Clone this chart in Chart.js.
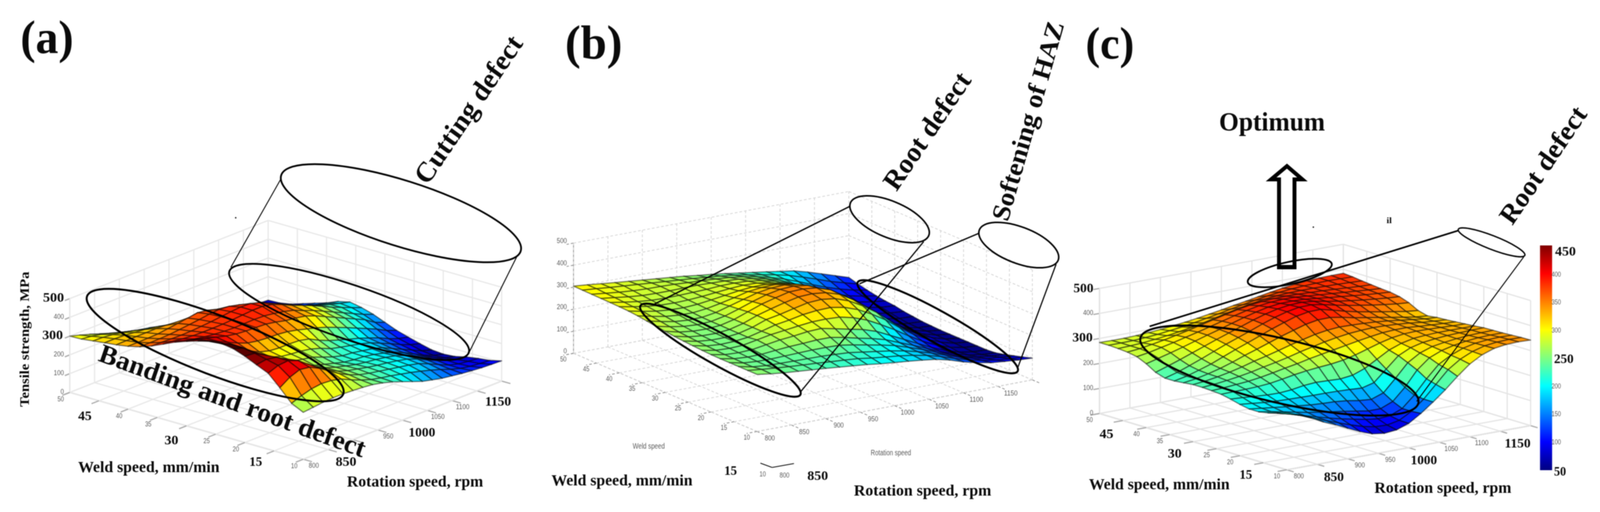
<!DOCTYPE html>
<html>
<head>
<meta charset="utf-8">
<title>Tensile strength surfaces</title>
<script src="https://cdn.jsdelivr.net/npm/chart.js@4/dist/chart.umd.min.js"></script>
<style>
  html, body { margin: 0; background: #fff; overflow: hidden; }
  canvas { display: block; }
</style>
</head>
<body>
<canvas id="chart"></canvas>
<script>
// mesh axes of the three surfaces
const weldSpeed = [50, 48, 46, 44, 42, 40, 38, 36, 34, 32, 30, 28, 26, 24, 22, 20, 18, 16, 14, 12, 10];
const rotationSpeed = [800, 820, 840, 860, 880, 900, 920, 940, 960, 980, 1000, 1020, 1040, 1060, 1080, 1100, 1120, 1140, 1160, 1180, 1200];

// axis ticks
const weldTicks = [50, 45, 40, 35, 30, 25, 20, 15, 10];
const rotationTicks = [800, 850, 900, 950, 1000, 1050, 1100, 1150, 1200];
const strengthTicks = [0, 100, 200, 300, 400, 500];
const colorbarTicks = [100, 150, 200, 300, 350, 400];

// tensile strength, MPa: one row per weld speed, one column per rotation speed
const strengthA = [
  [300,285,268,250,232,215,200,188,178,165,152,140,128,118,108,100,93,87,82,78,75],
  [302,296,285,270,255,240,225,212,200,187,173,160,148,137,126,116,106,98,90,83,78],
  [310,308,302,292,280,265,250,237,224,210,196,182,170,158,146,134,122,112,102,95,90],
  [318,318,316,310,305,295,280,268,254,238,222,208,196,185,172,160,147,136,125,117,110],
  [325,326,327,327,328,325,320,310,295,275,255,238,224,212,200,187,173,160,147,138,130],
  [335,335,336,338,345,352,360,368,360,345,325,300,280,262,245,225,205,190,175,160,150],
  [350,350,351,353,358,364,370,378,382,378,365,345,320,298,275,250,228,212,198,185,175],
  [372,370,368,367,368,372,376,382,388,392,390,375,350,325,300,272,250,233,218,203,190],
  [400,394,387,382,380,380,381,384,388,392,392,382,360,335,315,292,268,242,220,198,178],
  [428,415,403,394,387,382,380,381,382,380,372,362,348,325,305,280,255,230,205,180,160],
  [450,440,425,410,395,385,380,378,375,365,352,345,335,315,290,265,240,215,190,155,135],
  [470,450,425,400,375,355,345,340,338,332,320,305,290,272,250,228,205,182,158,130,110],
  [485,455,420,385,350,325,310,305,305,302,290,262,240,222,205,190,170,150,125,105,92],
  [492,468,430,385,345,315,298,290,285,275,258,235,222,210,198,183,160,137,112,90,75],
  [482,465,425,380,340,310,290,280,270,250,230,215,210,200,190,175,150,125,100,75,60],
  [460,455,425,385,345,310,285,265,250,235,220,212,208,198,185,170,145,118,90,68,55],
  [432,440,430,400,360,325,295,270,252,238,225,216,210,200,188,170,145,120,95,72,60],
  [405,425,430,410,370,330,298,270,252,240,228,218,210,200,188,168,142,118,98,82,75],
  [345,380,400,392,365,330,295,268,248,235,225,215,205,195,182,160,135,112,97,90,85],
  [280,300,315,322,318,305,280,258,240,228,218,206,194,180,165,148,128,112,102,96,92],
  [250,256,262,265,265,262,258,252,240,225,205,185,165,152,140,132,124,118,113,110,108],
];

const strengthB = [
  [305,299,292,286,280,274,268,262,256,248,241,233,224,215,206,196,187,170,150,130,110],
  [304,299,293,288,283,278,273,268,263,257,251,243,233,222,210,195,176,155,133,115,98],
  [303,296,289,284,281,280,278,274,271,267,262,254,242,227,208,185,160,136,116,100,88],
  [302,294,286,280,278,278,279,280,278,276,272,263,250,232,205,175,147,122,103,90,80],
  [301,291,282,276,274,275,277,279,283,284,281,272,257,235,203,170,138,111,93,82,74],
  [300,288,278,272,270,272,276,282,288,292,290,280,262,235,200,165,130,102,85,75,70],
  [298,285,274,268,266,270,278,287,296,302,302,294,272,238,197,157,120,93,76,67,62],
  [294,280,268,262,261,268,280,294,310,317,319,310,286,244,196,150,110,84,69,60,57],
  [288,274,262,257,258,268,286,304,322,332,335,326,298,252,197,146,104,78,63,55,52],
  [282,268,258,254,257,270,290,312,331,344,347,339,313,268,214,160,114,84,65,53,50],
  [277,262,254,252,257,272,295,318,335,350,352,345,325,285,235,180,130,95,70,55,48],
  [272,258,251,250,256,272,296,314,331,345,348,341,322,285,240,185,136,98,72,55,48],
  [268,255,249,249,256,272,295,307,322,336,340,332,310,276,235,184,137,100,73,55,48],
  [265,252,247,249,256,272,289,299,312,319,321,310,288,256,218,172,130,96,70,54,48],
  [262,250,247,250,262,274,282,290,297,298,295,281,258,226,191,152,116,87,65,52,48],
  [260,248,245,248,258,268,274,282,285,272,258,245,225,195,165,135,105,80,60,50,48],
  [259,247,243,244,250,255,258,262,262,250,235,222,205,180,156,130,104,82,65,55,52],
  [259,246,241,240,242,244,246,246,244,234,222,210,196,176,155,131,108,88,74,66,62],
  [259,246,240,238,237,236,235,232,228,219,210,201,190,174,156,135,114,97,84,78,74],
  [259,252,246,241,237,233,228,224,219,210,203,196,187,175,158,138,120,105,95,89,86],
  [259,250,243,238,233,228,222,216,210,202,196,190,183,175,160,140,125,113,107,102,99],
];

const strengthC = [
  [284,283,283,285,288,292,297,303,310,318,326,335,343,352,361,369,375,380,383,384,384],
  [284,284,285,288,292,298,304,312,321,330,340,349,358,366,372,377,380,382,383,382,381],
  [282,284,287,292,298,305,313,323,334,345,356,365,373,378,381,382,382,381,380,378,376],
  [279,284,292,301,311,322,334,346,358,369,378,384,387,388,387,385,383,380,377,374,372],
  [272,280,291,302,314,326,339,352,365,377,387,393,396,395,391,387,383,379,375,371,368],
  [255,268,281,295,310,325,339,354,369,382,393,399,400,398,393,387,382,377,372,368,365],
  [232,248,265,283,301,319,336,353,370,385,397,404,406,401,392,384,377,371,366,361,358],
  [220,234,252,271,291,311,329,347,366,383,397,406,407,399,388,378,370,362,355,349,345],
  [220,230,245,261,281,301,319,338,357,374,390,399,400,388,375,364,355,346,338,330,325],
  [224,231,242,255,271,289,305,322,339,354,369,378,379,371,360,352,344,335,327,319,315],
  [228,233,241,251,263,277,289,302,316,328,340,348,352,351,349,346,341,335,329,323,320],
  [228,232,238,245,254,265,275,286,299,310,321,330,337,341,343,342,339,335,329,325,322],
  [226,229,233,237,244,253,263,272,283,292,301,310,319,327,334,337,337,333,330,327,325],
  [223,224,225,227,231,239,248,255,260,264,271,283,298,313,325,332,334,333,331,329,328],
  [215,212,208,205,204,208,216,220,218,216,222,240,268,296,314,325,329,331,331,331,331],
  [205,200,195,192,190,189,188,188,187,185,182,195,240,285,308,320,326,330,332,334,335],
  [198,192,186,180,175,170,167,165,160,152,148,165,215,268,298,315,323,329,333,335,336],
  [198,190,180,170,160,152,145,138,130,122,122,142,190,250,290,310,322,330,335,337,337],
  [205,195,182,167,153,140,128,118,108,102,105,125,170,226,275,303,322,333,338,340,339],
  [215,203,188,168,150,132,115,100,90,88,98,125,165,215,265,298,320,334,340,342,341],
  [228,210,190,165,145,122,100,82,75,80,97,128,165,205,250,290,318,335,342,344,342],
];

// where each box sits on the page: corners of the floor and height of 1 MPa
const boxA = { a: [185, 1004], b: [804, 1175], c: [1330, 975], zScale: 0.48, grid: "#e8e8e8", gridWidth: 3, axis: "#aaaaaa", dash: [] };
const boxB = { a: [1520.5, 904], b: [2007, 1104], c: [2737, 972], zScale: 0.564, grid: "#d4d4d4", gridWidth: 2, axis: "#8c8c8c", dash: [7, 5] };
const boxC = { a: [2915, 1058], b: [3411.5, 1202], c: [4058, 1089], zScale: 0.64, grid: "#e4e4e4", gridWidth: 3, axis: "#aaaaaa", dash: [] };

const project = (box, weld, rotation, strength) => {
  const u = (50 - weld) / 40;
  const v = (rotation - 800) / 400;
  return {
    x: box.a[0] + u * (box.b[0] - box.a[0]) + v * (box.c[0] - box.b[0]),
    y: box.a[1] + u * (box.b[1] - box.a[1]) + v * (box.c[1] - box.b[1]) - strength * box.zScale,
  };
};

// MATLAB jet, 50 to 450 MPa
const jet = (value) => {
  const t = (value - 50) / 400;
  const ch = (center) => Math.round(255 * Math.max(0, Math.min(1, 1.5 - Math.abs(4 * t - center))));
  return `rgb(${ch(3)},${ch(2)},${ch(1)})`;
};

const segment = (from, to, color, width, dash = [], order = 3) => ({
  type: "scatter",
  data: [from, to],
  showLine: true,
  borderColor: color,
  borderWidth: width,
  borderDash: dash,
  pointRadius: 0,
  order,
});

const boxDatasets = (box) => {
  const sets = [];
  const grid = (from, to) => sets.push(segment(from, to, box.grid, box.gridWidth, box.dash));
  const axis = (from, to) => sets.push(segment(from, to, box.axis, box.gridWidth, box.dash));
  weldTicks.forEach((weld) => {
    grid(project(box, weld, 800, 0), project(box, weld, 1200, 0));
    grid(project(box, weld, 1200, 0), project(box, weld, 1200, 500));
    axis(project(box, weld, 800, 0), project(box, weld, 785, 0));
  });
  rotationTicks.forEach((rotation) => {
    grid(project(box, 50, rotation, 0), project(box, 10, rotation, 0));
    grid(project(box, 50, rotation, 0), project(box, 50, rotation, 500));
    axis(project(box, 10, rotation, 0), project(box, 8.5, rotation, 0));
  });
  strengthTicks.forEach((strength) => {
    grid(project(box, 50, 800, strength), project(box, 50, 1200, strength));
    grid(project(box, 50, 1200, strength), project(box, 10, 1200, strength));
    axis(project(box, 50, 800, strength), project(box, 50, 790, strength));
  });
  axis(project(box, 50, 800, 0), project(box, 10, 800, 0));
  axis(project(box, 10, 800, 0), project(box, 10, 1200, 0));
  sets.push(segment(project(box, 50, 800, 0), project(box, 50, 800, 500), box.axis, box.gridWidth));
  return sets;
};

const surfaceDataset = (box, rows, label) => ({
  type: "scatter",
  label,
  data: rows.flatMap((row, i) => row.map((z, j) => project(box, weldSpeed[i], rotationSpeed[j], z))),
  strength: rows,
  showLine: false,
  pointRadius: 0,
  order: 2,
});

// leader lines between the ellipses
const leaders = [
  [744, 459, 612, 684, 2.5], [1370, 657, 1244, 901, 2.5],
  [2253, 528, 1735, 778, 3.5], [2449, 618, 2123, 1002, 3],
  [2595, 597, 2279, 726, 3.5], [2800, 676, 2699, 939, 3],
  [3866, 590, 3048, 835, 4], [4040, 657, 3756, 1027, 2.5],
  [2016, 1185, 2047, 1196, 2], [2047, 1196, 2105, 1186, 2],
];

// cx, cy, semi-axes, tilt in degrees, line width
const ellipses = [
  [1063, 545.5, 332, 84, 16.9, 4.5], [925.5, 798, 334, 69.5, 18.1, 4.5], [570.5, 883, 362, 76, 20.2, 5],
  [2358.5, 561, 112, 46.5, 21.8, 4], [1910, 896, 240.7, 40, 28.2, 5],
  [2701, 627, 111.5, 46.6, 20, 4], [2486, 836, 240.7, 40, 28.2, 5],
  [3954.5, 620, 94.3, 17.4, 20.6, 3.5], [3419.5, 698.5, 113.8, 28.5, -11.9, 4.5], [3392, 948, 377.8, 82, 12.7, 5],
];

// text, x, y, fitted width, font size, angle
const boldLabels = [
  ["(a)", 124.5, 136, 141, 120, 0], ["(b)", 1574, 150, 152, 122, 0], ["(c)", 2942.5, 150, 129, 116, 0],
  ["Cutting defect", 1246, 283, 445, 72, -55], ["Banding and root defect", 615, 1030, 745, 68, 19.5],
  ["Tensile strength, MPa", 68, 868, 346, 34, -90],
  ["500", 142, 772, 56, 34, 0], ["300", 139.5, 868, 55, 34, 0],
  ["45", 225, 1075, 36, 34, 0], ["30", 454.5, 1137, 37, 34, 0], ["15", 678, 1192, 34, 34, 0],
  ["850", 917.5, 1192, 55, 34, 0], ["1000", 1118.5, 1117, 71, 34, 0], ["1150", 1320.5, 1038, 69, 34, 0],
  ["Weld speed, mm/min", 394.5, 1208, 375, 41, 0], ["Rotation speed, rpm", 1100.5, 1245, 361, 41, 0],
  ["Root defect", 2462, 338, 350, 72, -55], ["Softening of HAZ", 2730, 311, 528, 68, -73.5],
  ["15", 1937, 1215, 34, 34, 0], ["850", 2168, 1228, 55, 34, 0],
  ["Weld speed, mm/min", 1649, 1242, 374, 41, 0], ["Rotation speed, rpm", 2446, 1268, 364, 41, 0],
  ["Optimum", 3372.5, 334, 281, 67, 0], ["Root defect", 4095, 425, 350, 70, -55],
  ["500", 2872.5, 748, 53, 34, 0], ["300", 2870, 874, 54, 34, 0],
  ["45", 2933.5, 1121, 37, 34, 0], ["30", 3114.5, 1171, 37, 34, 0], ["15", 3303, 1225, 34, 34, 0],
  ["850", 3536.5, 1231, 53, 34, 0], ["1000", 3775, 1188, 70, 34, 0], ["1150", 4023.5, 1145, 69, 34, 0],
  ["Weld speed, mm/min", 3073.5, 1252, 373, 41, 0], ["Rotation speed, rpm", 3825.5, 1261, 363, 41, 0],
  ["450", 4150.5, 654, 55, 34, 0], ["250", 4146, 929, 52, 34, 0], ["50", 4136, 1217, 32, 34, 0],
  ["il", 3683, 571, 14, 20, 0], [".", 3482, 583, 6, 24, 0], [".", 625, 559, 6, 24, 0],
];

const smallLabels = [
  ["Weld speed", 1720, 1142, 85, 20], ["Rotation speed", 2362, 1159, 107, 20],
  ["10", 2022, 1214, 17, 19], ["800", 2080, 1217, 26, 19],
];

const boxTickLabels = [
  { box: boxA, weld: [50, 40, 35, 25, 20, 10], rotation: [800, 950, 1050, 1100], strength: [400, 200, 100, 0], weldOffset: [-24, 18], rotationOffset: [28, 17], strengthOffset: [-29, -1] },
  { box: boxB, weld: [50, 45, 40, 35, 30, 25, 20, 15, 10], rotation: [800, 850, 900, 950, 1000, 1050, 1100, 1150], strength: [500, 400, 300, 200, 100, 0], weldOffset: [-27, 16], rotationOffset: [34, 18], strengthOffset: [-31, -5] },
  { box: boxC, weld: [50, 40, 35, 25, 20, 10], rotation: [800, 900, 950, 1050, 1100], strength: [400, 200, 100, 0], weldOffset: [-26, 17], rotationOffset: [32, 17], strengthOffset: [-30, -1] },
];

// the browser may give a narrower window than the figure, so everything is drawn in figure units
const fullWidth = 4242;
const fullHeight = 1310;
let pageScale = 1;

const drawText = (ctx, text, x, y, width, size, angle, font, color) => {
  ctx.save();
  ctx.font = `${font} ${size}px "Liberation Serif"`;
  ctx.fillStyle = color;
  ctx.textAlign = "center";
  ctx.textBaseline = angle === 0 ? "alphabetic" : "middle";
  ctx.translate(x, y);
  ctx.scale(pageScale, 1);
  ctx.rotate((angle * Math.PI) / 180);
  ctx.scale(width / ctx.measureText(text).width, 1);
  ctx.fillText(text, 0, 0);
  ctx.restore();
};

const drawSmall = (ctx, text, x, y, width, size) => {
  ctx.save();
  ctx.font = `${size}px "Liberation Sans"`;
  ctx.fillStyle = "#5a5a5a";
  ctx.textAlign = "center";
  ctx.textBaseline = "middle";
  ctx.translate(x, y);
  ctx.scale((pageScale * width) / ctx.measureText(text).width, 1);
  ctx.fillText(text, 0, 0);
  ctx.restore();
};

const surfacePlugin = {
  id: "surface",
  afterDatasetDraw(chart, args) {
    const dataset = chart.data.datasets[args.index];
    if (!dataset.strength) return;
    const ctx = chart.ctx;
    const rows = dataset.strength;
    const n = rows[0].length;
    const nodes = chart.getDatasetMeta(args.index).data;
    ctx.save();
    ctx.lineJoin = "round";
    // far corner first, so nearer cells cover it
    for (let i = 0; i < rows.length - 1; i++) {
      for (let j = n - 2; j >= 0; j--) {
        const corners = [nodes[i * n + j], nodes[i * n + j + 1], nodes[(i + 1) * n + j + 1], nodes[(i + 1) * n + j]];
        const mean = (rows[i][j] + rows[i][j + 1] + rows[i + 1][j + 1] + rows[i + 1][j]) / 4;
        ctx.beginPath();
        corners.forEach((p, k) => (k ? ctx.lineTo(p.x, p.y) : ctx.moveTo(p.x, p.y)));
        ctx.closePath();
        ctx.fillStyle = jet(mean);
        ctx.fill();
        ctx.strokeStyle = "rgba(0,0,0,0.5)";
        ctx.lineWidth = 3;
        ctx.stroke();
      }
    }
    ctx.restore();
  },
};

const annotationPlugin = {
  id: "annotation",
  afterDatasetsDraw(chart) {
    const ctx = chart.ctx;
    const sx = (v) => chart.scales.x.getPixelForValue(v);
    const sy = (v) => chart.scales.y.getPixelForValue(v);
    pageScale = chart.width / fullWidth;

    // colour bar, top is 450 MPa
    const barTop = sy(628);
    const barBottom = sy(1203);
    const gradient = ctx.createLinearGradient(0, barBottom, 0, barTop);
    [0, 0.125, 0.375, 0.625, 0.875, 1].forEach((stop) => gradient.addColorStop(stop, jet(50 + stop * 400)));
    ctx.fillStyle = gradient;
    ctx.fillRect(sx(4083), barTop, sx(4115) - sx(4083), barBottom - barTop);

    // optimum arrow
    ctx.save();
    ctx.beginPath();
    [[3412, 425], [3453, 459], [3432, 459], [3432, 684], [3391, 684], [3391, 459], [3370, 459]].forEach(([x, y], k) =>
      k ? ctx.lineTo(sx(x), sy(y)) : ctx.moveTo(sx(x), sy(y))
    );
    ctx.closePath();
    ctx.fillStyle = "#fff";
    ctx.fill();
    ctx.strokeStyle = "#000";
    ctx.lineWidth = 10;
    ctx.lineJoin = "miter";
    ctx.stroke();
    ctx.fillStyle = "#000";
    ctx.fillRect(sx(3386), sy(678), sx(3437) - sx(3386), sy(689) - sy(678));
    ctx.restore();

    ellipses.forEach(([cx, cy, a, b, tilt, width]) => {
      ctx.save();
      ctx.translate(sx(cx), sy(cy));
      ctx.scale(pageScale, 1);
      ctx.beginPath();
      ctx.ellipse(0, 0, a, b, (tilt * Math.PI) / 180, 0, 2 * Math.PI);
      ctx.restore();
      ctx.strokeStyle = "#000";
      ctx.lineWidth = width;
      ctx.stroke();
    });

    boxTickLabels.forEach((set) => {
      set.weld.forEach((weld) => {
        const p = project(set.box, weld, 800, 0);
        drawSmall(ctx, String(weld), sx(p.x + set.weldOffset[0]), sy(p.y + set.weldOffset[1]), 17, 19);
      });
      set.rotation.forEach((rotation) => {
        const p = project(set.box, 10, rotation, 0);
        const label = String(rotation);
        drawSmall(ctx, label, sx(p.x + set.rotationOffset[0]), sy(p.y + set.rotationOffset[1]), label.length * 9, 19);
      });
      set.strength.forEach((strength) => {
        const p = project(set.box, 50, 800, strength);
        const label = String(strength);
        drawSmall(ctx, label, sx(p.x + set.strengthOffset[0] + (strength === 0 ? 9 : 0)), sy(p.y + set.strengthOffset[1]), label.length * 9, 19);
      });
    });
    colorbarTicks.forEach((value) => {
      drawSmall(ctx, String(value), sx(4126), sy(1203 - ((value - 50) / 400) * 572), 25, 19);
    });
    smallLabels.forEach(([text, x, y, width, size]) => drawSmall(ctx, text, sx(x), sy(y), width, size));
    boldLabels.forEach(([text, x, y, width, size, angle]) =>
      drawText(ctx, text, sx(x), sy(y), width, size, angle, "bold", "#0a0a0a")
    );
  },
  // the source figure is a soft, upscaled image
  afterDraw(chart) {
    const copy = document.createElement("canvas");
    copy.width = chart.canvas.width;
    copy.height = chart.canvas.height;
    copy.getContext("2d").drawImage(chart.canvas, 0, 0);
    chart.ctx.save();
    chart.ctx.clearRect(0, 0, copy.width, copy.height);
    chart.ctx.filter = "blur(1.2px)";
    chart.ctx.drawImage(copy, 0, 0);
    chart.ctx.restore();
  },
};

const canvas = document.getElementById("chart");
canvas.width = Math.min(window.innerWidth, fullWidth);
canvas.height = Math.min(window.innerHeight, fullHeight);

new Chart(canvas, {
  type: "scatter",
  data: {
    datasets: [
      ...leaders.map(([x1, y1, x2, y2, width]) => segment({ x: x1, y: y1 }, { x: x2, y: y2 }, "#000", width, [], 1)),
      surfaceDataset(boxA, strengthA, "Tensile strength (a)"),
      surfaceDataset(boxB, strengthB, "Tensile strength (b)"),
      surfaceDataset(boxC, strengthC, "Tensile strength (c)"),
      ...boxDatasets(boxA),
      ...boxDatasets(boxB),
      ...boxDatasets(boxC),
    ],
  },
  options: {
    responsive: false,
    animation: false,
    devicePixelRatio: 1,
    layout: { padding: 0 },
    plugins: { legend: { display: false }, tooltip: { enabled: false } },
    scales: {
      x: { type: "linear", min: 0, max: fullWidth, display: false },
      y: { type: "linear", min: 0, max: fullHeight, reverse: true, display: false },
    },
  },
  plugins: [surfacePlugin, annotationPlugin],
});
</script>
</body>
</html>
